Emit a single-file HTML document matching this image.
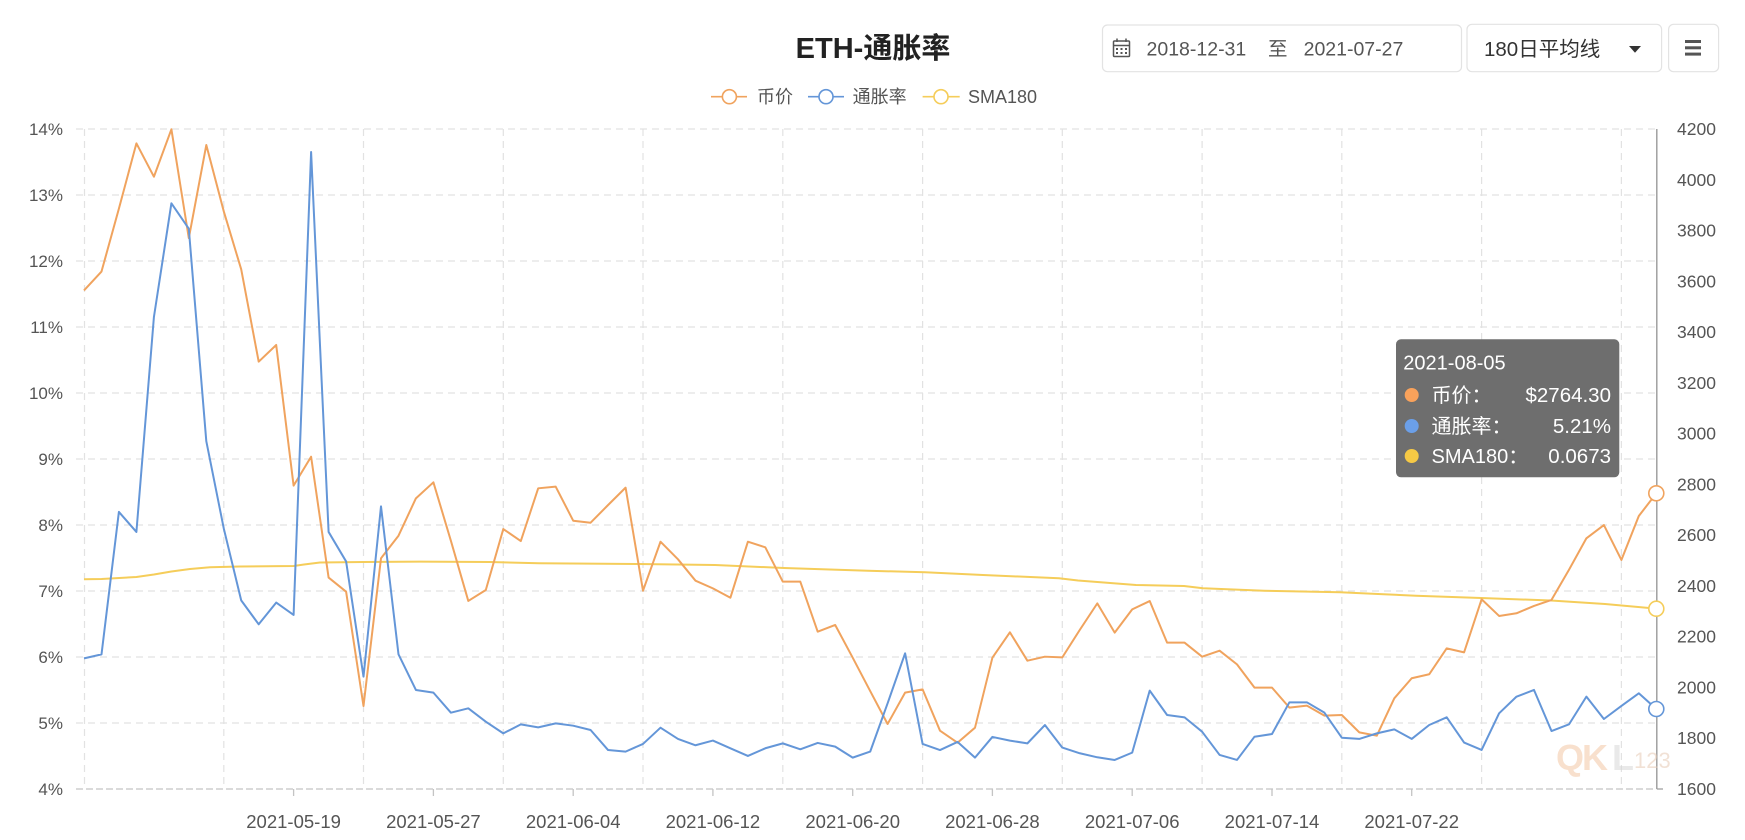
<!DOCTYPE html>
<html>
<head>
<meta charset="utf-8">
<style>
  html,body{margin:0;padding:0;background:#fff;}
  body{width:1745px;height:840px;overflow:hidden;}
  svg{display:block;font-family:"Liberation Sans","Noto Sans CJK SC",sans-serif;}
</style>
</head>
<body>
<svg width="1745" height="840" viewBox="0 0 1745 840" xmlns="http://www.w3.org/2000/svg">
  <rect x="0" y="0" width="1745" height="840" fill="#ffffff"/>

  <!-- Title -->
  <text x="873" y="58" text-anchor="middle" font-size="29" font-weight="bold" fill="#222">ETH-通胀率</text>

  <!-- Legend -->
  <g stroke-width="1.6" fill="#fff">
    <line x1="711" y1="96.7" x2="747" y2="96.7" stroke="#f0a35e"/>
    <circle cx="729.4" cy="96.7" r="7" stroke="#f0a35e"/>
    <line x1="808" y1="96.7" x2="844" y2="96.7" stroke="#6496d8"/>
    <circle cx="826" cy="96.7" r="7" stroke="#6496d8"/>
    <line x1="922.6" y1="96.7" x2="959.7" y2="96.7" stroke="#f5cd5a"/>
    <circle cx="941" cy="96.7" r="7" stroke="#f5cd5a"/>
  </g>
  <g font-size="18" fill="#555">
    <text x="757" y="103">币价</text>
    <text x="852.6" y="103">通胀率</text>
    <text x="968" y="103">SMA180</text>
  </g>

  <!-- Date range box -->
  <rect x="1102.5" y="25" width="359" height="46.7" rx="5" fill="#fff" stroke="#e3e3e3" stroke-width="1.2"/>
  <g fill="none" stroke="#555" stroke-width="1.5">
    <rect x="1113.5" y="41" width="16" height="15.5" rx="1"/>
    <line x1="1113.5" y1="45.5" x2="1129.5" y2="45.5"/>
    <line x1="1117" y1="38.5" x2="1117" y2="42"/>
    <line x1="1126" y1="38.5" x2="1126" y2="42"/>
  </g>
  <g fill="#555">
    <rect x="1116" y="48" width="2" height="2"/><rect x="1120.5" y="48" width="2" height="2"/><rect x="1125" y="48" width="2" height="2"/>
    <rect x="1116" y="52" width="2" height="2"/><rect x="1120.5" y="52" width="2" height="2"/><rect x="1125" y="52" width="2" height="2"/>
  </g>
  <g font-size="19.5" fill="#555">
    <text x="1146.5" y="55.5">2018-12-31</text>
    <text x="1268" y="55.5">至</text>
    <text x="1303.6" y="55.5">2021-07-27</text>
  </g>

  <!-- Select box -->
  <rect x="1467" y="24.3" width="194.6" height="47.4" rx="5" fill="#fff" stroke="#e3e3e3" stroke-width="1.2"/>
  <text x="1484" y="56" font-size="20.5" fill="#333">180日平均线</text>
  <polygon points="1629,46 1641,46 1635,52.7" fill="#333"/>

  <!-- Menu button -->
  <rect x="1668.6" y="24.3" width="50" height="47.4" rx="5" fill="#fff" stroke="#e3e3e3" stroke-width="1.2"/>
  <g fill="#555">
    <rect x="1685" y="40" width="16" height="3"/>
    <rect x="1685" y="46.3" width="16" height="3"/>
    <rect x="1685" y="52.6" width="16" height="3"/>
  </g>

  <!-- Horizontal grid lines -->
  <g stroke="#e2e2e2" stroke-width="1.2" stroke-dasharray="7 5">
    <line x1="76" y1="129" x2="1656" y2="129"/>
    <line x1="76" y1="195" x2="1656" y2="195"/>
    <line x1="76" y1="261" x2="1656" y2="261"/>
    <line x1="76" y1="327" x2="1656" y2="327"/>
    <line x1="76" y1="393" x2="1656" y2="393"/>
    <line x1="76" y1="459" x2="1656" y2="459"/>
    <line x1="76" y1="525" x2="1656" y2="525"/>
    <line x1="76" y1="591" x2="1656" y2="591"/>
    <line x1="76" y1="657" x2="1656" y2="657"/>
    <line x1="76" y1="723" x2="1656" y2="723"/>
  </g>
  <!-- Vertical grid lines -->
  <g stroke="#e2e2e2" stroke-width="1.2" stroke-dasharray="7 5">
    <line x1="84.5" y1="129" x2="84.5" y2="789"/>
    <line x1="223.8" y1="129" x2="223.8" y2="789"/>
    <line x1="363.5" y1="129" x2="363.5" y2="789"/>
    <line x1="503.3" y1="129" x2="503.3" y2="789"/>
    <line x1="643" y1="129" x2="643" y2="789"/>
    <line x1="782.8" y1="129" x2="782.8" y2="789"/>
    <line x1="922.6" y1="129" x2="922.6" y2="789"/>
    <line x1="1062.3" y1="129" x2="1062.3" y2="789"/>
    <line x1="1202.1" y1="129" x2="1202.1" y2="789"/>
    <line x1="1341.8" y1="129" x2="1341.8" y2="789"/>
    <line x1="1481.6" y1="129" x2="1481.6" y2="789"/>
    <line x1="1621.4" y1="129" x2="1621.4" y2="789"/>
  </g>

  <!-- X axis line + ticks -->
  <line x1="76" y1="789" x2="1656" y2="789" stroke="#c4c4c4" stroke-width="1.3" stroke-dasharray="7 3"/>
  <g stroke="#c4c4c4" stroke-width="1.3">
    <line x1="293.6" y1="789" x2="293.6" y2="796"/>
    <line x1="433.4" y1="789" x2="433.4" y2="796"/>
    <line x1="573.2" y1="789" x2="573.2" y2="796"/>
    <line x1="712.9" y1="789" x2="712.9" y2="796"/>
    <line x1="852.7" y1="789" x2="852.7" y2="796"/>
    <line x1="992.4" y1="789" x2="992.4" y2="796"/>
    <line x1="1132.2" y1="789" x2="1132.2" y2="796"/>
    <line x1="1272" y1="789" x2="1272" y2="796"/>
    <line x1="1411.7" y1="789" x2="1411.7" y2="796"/>
  </g>
  <!-- Right axis line -->
  <line x1="1656.8" y1="129" x2="1656.8" y2="789" stroke="#9a9a9a" stroke-width="1.4"/>
  <line x1="1656.8" y1="789" x2="1663" y2="789" stroke="#9a9a9a" stroke-width="1.2"/>

  <!-- Left axis labels -->
  <g font-size="17" fill="#555" text-anchor="end">
    <text x="63" y="135">14%</text>
    <text x="63" y="201">13%</text>
    <text x="63" y="267">12%</text>
    <text x="63" y="333">11%</text>
    <text x="63" y="399">10%</text>
    <text x="63" y="465">9%</text>
    <text x="63" y="531">8%</text>
    <text x="63" y="597">7%</text>
    <text x="63" y="663">6%</text>
    <text x="63" y="729">5%</text>
    <text x="63" y="795">4%</text>
  </g>
  <!-- Right axis labels -->
  <g font-size="17.5" fill="#555" text-anchor="start">
    <text x="1677" y="135">4200</text>
    <text x="1677" y="185.8">4000</text>
    <text x="1677" y="236.5">3800</text>
    <text x="1677" y="287.3">3600</text>
    <text x="1677" y="338.1">3400</text>
    <text x="1677" y="388.8">3200</text>
    <text x="1677" y="439.6">3000</text>
    <text x="1677" y="490.4">2800</text>
    <text x="1677" y="541.2">2600</text>
    <text x="1677" y="591.9">2400</text>
    <text x="1677" y="642.7">2200</text>
    <text x="1677" y="693.5">2000</text>
    <text x="1677" y="744.2">1800</text>
    <text x="1677" y="795">1600</text>
  </g>
  <!-- Bottom labels -->
  <g font-size="18.5" fill="#555" text-anchor="middle">
    <text x="293.6" y="828">2021-05-19</text>
    <text x="433.4" y="828">2021-05-27</text>
    <text x="573.2" y="828">2021-06-04</text>
    <text x="712.9" y="828">2021-06-12</text>
    <text x="852.7" y="828">2021-06-20</text>
    <text x="992.4" y="828">2021-06-28</text>
    <text x="1132.2" y="828">2021-07-06</text>
    <text x="1272" y="828">2021-07-14</text>
    <text x="1411.7" y="828">2021-07-22</text>
  </g>

  <!-- Watermark -->
  <g opacity="0.55">
    <text x="1556" y="770" font-size="36" font-weight="bold" fill="#f3c7a6" letter-spacing="-2">QK</text>
    <text x="1612" y="770" font-size="36" font-weight="bold" fill="#d8d8d8">L</text>
    <text x="1634" y="768" font-size="22" fill="#e6c9b3">123</text>
  </g>

  <!-- SMA180 line -->
  <polyline fill="none" stroke="#f5cd5a" stroke-width="2" stroke-linejoin="round"
    points="84,579.3 101.5,579 136.4,577 153.9,574.5 171.4,571.5 190,569 210,567.3 240,566.5 293.6,566 304,564.5 320,562.5 363.5,562 420,561.6 490,562 539,563.3 638,564 715,565 784,568 868,570.7 925,572.3 983,575 1059,578.3 1078,580.5 1136,585 1184,586 1203,588.3 1264,590.7 1340,592.3 1378,594 1416,595.7 1481,598 1551,600.5 1605,604 1656.3,608.7"/>

  <!-- Price & inflation lines (y in compressed units, scaled) -->
  <g transform="scale(1 1.11284)">
    <polyline fill="none" stroke="#f0a35e" stroke-width="2" stroke-linejoin="round" vector-effect="non-scaling-stroke"
      points="84,261 101.5,244 118.9,187.5 136.4,128.8 153.9,158.8 171.4,116.2 188.8,214 206.3,130.3 223.8,190 241.2,242 258.7,325 276.2,310 293.6,436.4 311.1,410.4 328.6,519 346.1,531.7 363.5,634.4 381,501.7 398.5,481.4 415.9,447.8 433.4,433.4 450.9,486 468.3,540 485.8,530.2 503.3,475.4 520.8,486.2 538.2,438.8 555.7,437.3 573.2,467.9 590.6,469.7 608.1,453.8 625.6,438.2 643,530.8 660.5,486.8 678,502.6 695.5,521.8 712.9,528.7 730.4,537.1 747.9,486.8 765.3,491.8 782.8,522.7 800.3,522.7 817.7,567.6 835.2,561.6 852.7,591 870.2,621 887.6,650.6 905.1,622.4 922.6,619.5 940,656.6 957.5,667.4 975,653.9 992.4,591 1009.9,568.2 1027.4,593.7 1044.9,590.1 1062.3,590.7 1079.8,566 1097.3,542.2 1114.7,568.5 1132.2,547.6 1149.7,540.1 1167.1,577.5 1184.6,577.5 1202.1,590.1 1219.6,584.7 1237,597 1254.5,617.9 1272,617.9 1289.4,635.9 1306.9,634.1 1324.4,643.1 1341.8,642.5 1359.3,658.1 1376.8,661.1 1394.3,627.5 1411.7,609.5 1429.2,605.9 1446.7,582.6 1464.1,586.2 1481.6,538.5 1499.1,553.5 1516.5,551.1 1534,544.5 1551.5,539.1 1569,512 1586.4,483.7 1603.9,471.8 1621.4,503.2 1638.8,463.7 1656.3,443.3"/>
    <polyline fill="none" stroke="#6496d8" stroke-width="2" stroke-linejoin="round" vector-effect="non-scaling-stroke"
      points="84,591.6 101.5,588 118.9,460 136.4,478 153.9,285 171.4,182.7 188.8,205.5 206.3,396.5 223.8,475 241.2,539.5 258.7,561 276.2,541.5 293.6,552.6 311.1,136.6 328.6,478 346.1,504.5 363.5,608 381,455 398.5,588 415.9,620 433.4,622.4 450.9,640.4 468.3,636.5 485.8,648.5 503.3,659 520.8,650.9 538.2,653.6 555.7,650 573.2,652.1 590.6,656 608.1,674 625.6,675.4 643,668.5 660.5,653.9 678,664 695.5,669.7 712.9,665.5 730.4,672.4 747.9,679.3 765.3,672.4 782.8,668 800.3,673.3 817.7,667.6 835.2,670.9 852.7,680.8 870.2,675.4 887.6,632 905.1,587.1 922.6,668.5 940,674 957.5,666.7 975,680.8 992.4,662.2 1009.9,665.5 1027.4,668 1044.9,651.5 1062.3,671.8 1079.8,676.9 1097.3,680.5 1114.7,682.9 1132.2,676.3 1149.7,620.6 1167.1,642.5 1184.6,644.6 1202.1,657.5 1219.6,678.4 1237,682.9 1254.5,662 1272,659.6 1289.4,631.1 1306.9,631.1 1324.4,640.4 1341.8,662.9 1359.3,664 1376.8,659 1394.3,655.4 1411.7,664 1429.2,651.5 1446.7,644.6 1464.1,667.3 1481.6,673.9 1499.1,641 1516.5,626 1534,620 1551.5,656.9 1569,650.9 1586.4,626 1603.9,646.1 1621.4,634.4 1638.8,623 1656.3,637.1"/>
  </g>

  <!-- End point markers -->
  <g fill="#fff" stroke-width="1.6">
    <circle cx="1656.3" cy="493.3" r="7.5" stroke="#f0a35e"/>
    <circle cx="1656.3" cy="608.7" r="7.5" stroke="#f5cd5a"/>
    <circle cx="1656.3" cy="709" r="7.5" stroke="#6496d8"/>
  </g>

  <!-- Tooltip -->
  <rect x="1396" y="339.3" width="223.3" height="138" rx="5" fill="#6e6e6e"/>
  <g font-size="20" fill="#fff">
    <text x="1403.3" y="369.5">2021-08-05</text>
    <text x="1431.5" y="402">币价：</text>
    <text x="1431.5" y="433">通胀率：</text>
    <text x="1431.5" y="463">SMA180：</text>
  </g>
  <g font-size="20.5" fill="#fff" text-anchor="end">
    <text x="1611" y="402">$2764.30</text>
    <text x="1611" y="433">5.21%</text>
    <text x="1611" y="463">0.0673</text>
  </g>
  <circle cx="1411.7" cy="395" r="7" fill="#f9a25b"/>
  <circle cx="1411.7" cy="426" r="7" fill="#6b9fe8"/>
  <circle cx="1411.7" cy="456" r="7" fill="#f6c945"/>
</svg>
</body>
</html>
